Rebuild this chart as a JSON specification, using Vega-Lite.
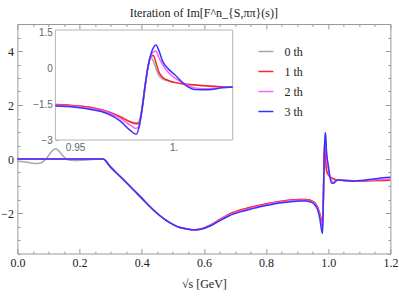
{
  "$schema": "https://vega.github.io/schema/vega-lite/v6.json",
  "autosize": "none",
  "width": 373,
  "height": 229.5,
  "padding": {"left": 17.4, "top": 24, "right": 8.6, "bottom": 46.5},
  "background": "white",
  "title": {"text": "Iteration of Im[F^n_{S,ππ}(s)]", "font": "Liberation Serif", "fontSize": 12, "fontWeight": "normal", "color": "#222", "anchor": "middle", "offset": -2},
  "config": {
    "view": {"stroke": "#999", "strokeWidth": 1},
    "axis": {"grid": false, "domain": false, "labelFont": "Liberation Serif", "labelFontSize": 12, "labelColor": "#222", "tickColor": "#999", "titleFont": "Liberation Serif", "titleFontSize": 12, "titleFontWeight": "normal", "titleColor": "#222"},
    "legend": {"orient": "none", "legendX": 240, "legendY": 19, "symbolType": "stroke", "symbolSize": 225, "symbolStrokeWidth": 1.5, "labelFont": "Liberation Serif", "labelFontSize": 12, "labelColor": "#222", "labelOffset": 10, "rowPadding": 5, "title": null}
  },
  "data": {"values": [
    {"x": 0, "g": -0.08, "r": 0, "m": 0, "b": 0},
    {"x": 0.02, "g": -0.1, "r": 0, "m": 0, "b": 0},
    {"x": 0.04, "g": -0.14, "r": 0, "m": 0, "b": 0},
    {"x": 0.066, "g": -0.17, "r": 0, "m": 0, "b": 0},
    {"x": 0.085, "g": -0.08, "r": 0, "m": 0, "b": 0},
    {"x": 0.1, "g": 0.12, "r": 0, "m": 0, "b": 0},
    {"x": 0.112, "g": 0.3, "r": 0, "m": 0, "b": 0},
    {"x": 0.124, "g": 0.38, "r": 0, "m": 0, "b": 0},
    {"x": 0.135, "g": 0.28, "r": 0, "m": 0, "b": 0},
    {"x": 0.148, "g": 0.1, "r": 0, "m": 0, "b": 0},
    {"x": 0.16, "g": -0.02, "r": 0, "m": 0, "b": 0},
    {"x": 0.18, "g": -0.06, "r": 0, "m": 0, "b": 0},
    {"x": 0.2, "g": -0.05, "r": 0, "m": 0, "b": 0},
    {"x": 0.24, "g": -0.02, "r": 0, "m": 0, "b": 0},
    {"x": 0.275, "g": 0, "r": 0, "m": 0, "b": 0},
    {"x": 0.3, "g": -0.3, "r": -0.3, "m": -0.3, "b": -0.3},
    {"x": 0.32, "g": -0.53, "r": -0.53, "m": -0.53, "b": -0.53},
    {"x": 0.35, "g": -0.87, "r": -0.87, "m": -0.87, "b": -0.87},
    {"x": 0.373, "g": -1.14, "r": -1.14, "m": -1.14, "b": -1.14},
    {"x": 0.4, "g": -1.45, "r": -1.45, "m": -1.45, "b": -1.45},
    {"x": 0.426, "g": -1.76, "r": -1.76, "m": -1.76, "b": -1.76},
    {"x": 0.45, "g": -2.02, "r": -2.02, "m": -2.02, "b": -2.02},
    {"x": 0.48, "g": -2.28, "r": -2.28, "m": -2.28, "b": -2.28},
    {"x": 0.5, "g": -2.42, "r": -2.42, "m": -2.42, "b": -2.42},
    {"x": 0.523, "g": -2.54, "r": -2.54, "m": -2.54, "b": -2.54},
    {"x": 0.55, "g": -2.6, "r": -2.6, "m": -2.6, "b": -2.6},
    {"x": 0.57, "g": -2.62, "r": -2.62, "m": -2.62, "b": -2.62},
    {"x": 0.59, "g": -2.59, "r": -2.59, "m": -2.6, "b": -2.6},
    {"x": 0.62, "g": -2.45, "r": -2.45, "m": -2.47, "b": -2.48},
    {"x": 0.65, "g": -2.25, "r": -2.25, "m": -2.27, "b": -2.29},
    {"x": 0.68, "g": -2.05, "r": -2.05, "m": -2.08, "b": -2.11},
    {"x": 0.72, "g": -1.88, "r": -1.88, "m": -1.92, "b": -1.95},
    {"x": 0.75, "g": -1.79, "r": -1.79, "m": -1.83, "b": -1.86},
    {"x": 0.78, "g": -1.71, "r": -1.71, "m": -1.74, "b": -1.77},
    {"x": 0.81, "g": -1.64, "r": -1.64, "m": -1.67, "b": -1.7},
    {"x": 0.85, "g": -1.56, "r": -1.56, "m": -1.59, "b": -1.62},
    {"x": 0.88, "g": -1.52, "r": -1.52, "m": -1.55, "b": -1.58},
    {"x": 0.91, "g": -1.5, "r": -1.5, "m": -1.53, "b": -1.56},
    {"x": 0.93, "g": -1.5, "r": -1.5, "m": -1.53, "b": -1.56},
    {"x": 0.94, "g": -1.52, "r": -1.52, "m": -1.55, "b": -1.58},
    {"x": 0.95, "g": -1.57, "r": -1.57, "m": -1.6, "b": -1.63},
    {"x": 0.958, "g": -1.64, "r": -1.64, "m": -1.68, "b": -1.72},
    {"x": 0.966, "g": -1.8, "r": -1.8, "m": -1.83, "b": -1.88},
    {"x": 0.973, "g": -2.02, "r": -2.04, "m": -2.1, "b": -2.21},
    {"x": 0.978, "g": -2.22, "r": -2.25, "m": -2.38, "b": -2.6},
    {"x": 0.981, "g": -2.28, "r": -2.32, "m": -2.52, "b": -2.76},
    {"x": 0.9825, "g": -2.2, "r": -2.3, "m": -2.4, "b": -2.45},
    {"x": 0.984, "g": -1.6, "r": -1.7, "m": -1.75, "b": -1.7},
    {"x": 0.9855, "g": -0.7, "r": -0.8, "m": -0.8, "b": -0.75},
    {"x": 0.987, "g": 0.05, "r": 0.1, "m": 0.05, "b": 0.05},
    {"x": 0.9885, "g": 0.45, "r": 0.5, "m": 0.55, "b": 0.6},
    {"x": 0.9897, "g": 0.3, "r": 0.53, "m": 0.68, "b": 0.85},
    {"x": 0.991, "g": 0.0, "r": 0.25, "m": 0.72, "b": 0.97},
    {"x": 0.9925, "g": -0.3, "r": -0.15, "m": 0.45, "b": 0.75},
    {"x": 0.9944, "g": -0.45, "r": -0.38, "m": 0.15, "b": 0.3},
    {"x": 0.997, "g": -0.52, "r": -0.5, "m": -0.15, "b": 0.0},
    {"x": 1.0005, "g": -0.6, "r": -0.59, "m": -0.4, "b": -0.26},
    {"x": 1.0057, "g": -0.66, "r": -0.66, "m": -0.65, "b": -0.68},
    {"x": 1.0108, "g": -0.7, "r": -0.7, "m": -0.82, "b": -0.89},
    {"x": 1.0177, "g": -0.74, "r": -0.74, "m": -0.86, "b": -0.9},
    {"x": 1.0245, "g": -0.77, "r": -0.77, "m": -0.8, "b": -0.82},
    {"x": 1.03, "g": -0.78, "r": -0.78, "m": -0.78, "b": -0.78},
    {"x": 1.05, "g": -0.79, "r": -0.79, "m": -0.8, "b": -0.8},
    {"x": 1.08, "g": -0.81, "r": -0.81, "m": -0.82, "b": -0.82},
    {"x": 1.1, "g": -0.82, "r": -0.82, "m": -0.81, "b": -0.8},
    {"x": 1.13, "g": -0.81, "r": -0.81, "m": -0.79, "b": -0.76},
    {"x": 1.16, "g": -0.8, "r": -0.8, "m": -0.76, "b": -0.72},
    {"x": 1.2, "g": -0.79, "r": -0.79, "m": -0.74, "b": -0.68}
  ]},
  "transform": [
    {"fold": ["g", "r", "m", "b"], "as": ["k", "y"]},
    {"lookup": "k", "from": {"data": {"values": [
      {"k": "g", "series": "0 th"}, {"k": "r", "series": "1 th"}, {"k": "m", "series": "2 th"}, {"k": "b", "series": "3 th"}
    ]}, "key": "k", "fields": ["series"]}}
  ],
  "resolve": {"scale": {"x": "independent", "y": "independent"}},
  "layer": [
    {
      "mark": {"type": "line", "strokeWidth": 1.5, "interpolate": "monotone"},
      "encoding": {
        "x": {"field": "x", "type": "quantitative", "scale": {"domain": [0, 1.2], "nice": false},
          "axis": {"orient": "bottom", "title": "√s  [GeV]", "titlePadding": 7,
            "values": [0,0.05,0.1,0.15,0.2,0.25,0.3,0.35,0.4,0.45,0.5,0.55,0.6,0.65,0.7,0.75,0.8,0.85,0.9,0.95,1,1.05,1.1,1.15,1.2],
            "labelExpr": "abs(datum.value*5 - round(datum.value*5)) < 0.001 ? format(datum.value, '.1f') : ''",
            "tickSize": {"condition": {"test": "abs(datum.value*5 - round(datum.value*5)) < 0.001", "value": -5}, "value": -2.5},
            "labelPadding": 9, "labelFlush": false, "labelOverlap": false}},
        "y": {"field": "y", "type": "quantitative", "scale": {"domain": [-3.5, 5], "nice": false, "zero": false},
          "axis": {"orient": "left", "title": null,
            "values": [-3.5,-3,-2.5,-2,-1.5,-1,-0.5,0,0.5,1,1.5,2,2.5,3,3.5,4,4.5,5],
            "labelExpr": "abs(datum.value/2 - round(datum.value/2)) < 0.001 ? format(datum.value, 'd') : ''",
            "tickSize": {"condition": {"test": "abs(datum.value/2 - round(datum.value/2)) < 0.001", "value": -5}, "value": -2.5},
            "labelPadding": 9, "labelFlush": false, "labelOverlap": false}},
        "color": {"field": "series", "type": "nominal",
          "scale": {"domain": ["0 th", "1 th", "2 th", "3 th"], "range": ["#a8a8a8", "#ff2424", "#ff5cff", "#3434ff"]}}
      }
    },
    {
      "mark": {"type": "point", "opacity": 0},
      "encoding": {
        "x": {"field": "x", "type": "quantitative", "scale": {"domain": [0, 1.2], "nice": false},
          "axis": {"orient": "top", "title": null, "labels": false,
            "values": [0,0.05,0.1,0.15,0.2,0.25,0.3,0.35,0.4,0.45,0.5,0.55,0.6,0.65,0.7,0.75,0.8,0.85,0.9,0.95,1,1.05,1.1,1.15,1.2],
            "tickSize": {"condition": {"test": "abs(datum.value*5 - round(datum.value*5)) < 0.001", "value": -5}, "value": -2.5}}},
        "y": {"field": "y", "type": "quantitative", "scale": {"domain": [-3.5, 5], "nice": false, "zero": false},
          "axis": {"orient": "right", "title": null, "labels": false,
            "values": [-3.5,-3,-2.5,-2,-1.5,-1,-0.5,0,0.5,1,1.5,2,2.5,3,3.5,4,4.5,5],
            "tickSize": {"condition": {"test": "abs(datum.value/2 - round(datum.value/2)) < 0.001", "value": -5}, "value": -2.5}}}
      }
    },
    {
      "layer": [
        {
          "data": {"values": [{"x0": 0.94, "x1": 1.03, "y0": -3, "y1": 1.6}]},
          "mark": {"type": "rect", "fill": "white", "stroke": "#b4b4b4", "strokeWidth": 1},
          "encoding": {
            "x": {"field": "x0", "type": "quantitative", "scale": {"domain": [0.94, 1.03], "range": [38, 215.3], "nice": false, "zero": false},
              "axis": {"orient": "bottom", "offset": -113.5, "title": null, "values": [0.95, 1],
                "labelExpr": "datum.value == 1 ? '1.' : format(datum.value, '.2f')",
                "labelFont": "Liberation Sans", "labelFontSize": 10, "labelColor": "#666", "tickColor": "#b4b4b4", "tickSize": -3, "labelPadding": 5, "domain": false}},
            "x2": {"field": "x1"},
            "y": {"field": "y0", "type": "quantitative", "scale": {"domain": [-3, 1.6], "range": [116, 6], "nice": false, "zero": false},
              "axis": {"orient": "left", "offset": -38, "title": null, "values": [-3, -1.5, 0, 1.5],
                "labelExpr": "format(datum.value, '.1~f')",
                "labelFont": "Liberation Sans", "labelFontSize": 10, "labelColor": "#666", "tickColor": "#b4b4b4", "tickSize": -3, "labelPadding": 6, "domain": false}},
            "y2": {"field": "y1"}
          }
        },
        {
          "transform": [{"filter": "datum.x >= 0.94 && datum.x <= 1.03"}],
          "mark": {"type": "line", "strokeWidth": 1.5, "interpolate": "monotone"},
          "encoding": {
            "x": {"field": "x", "type": "quantitative"},
            "y": {"field": "y", "type": "quantitative"},
            "color": {"field": "series", "type": "nominal"}
          }
        }
      ]
    }
  ]
}
